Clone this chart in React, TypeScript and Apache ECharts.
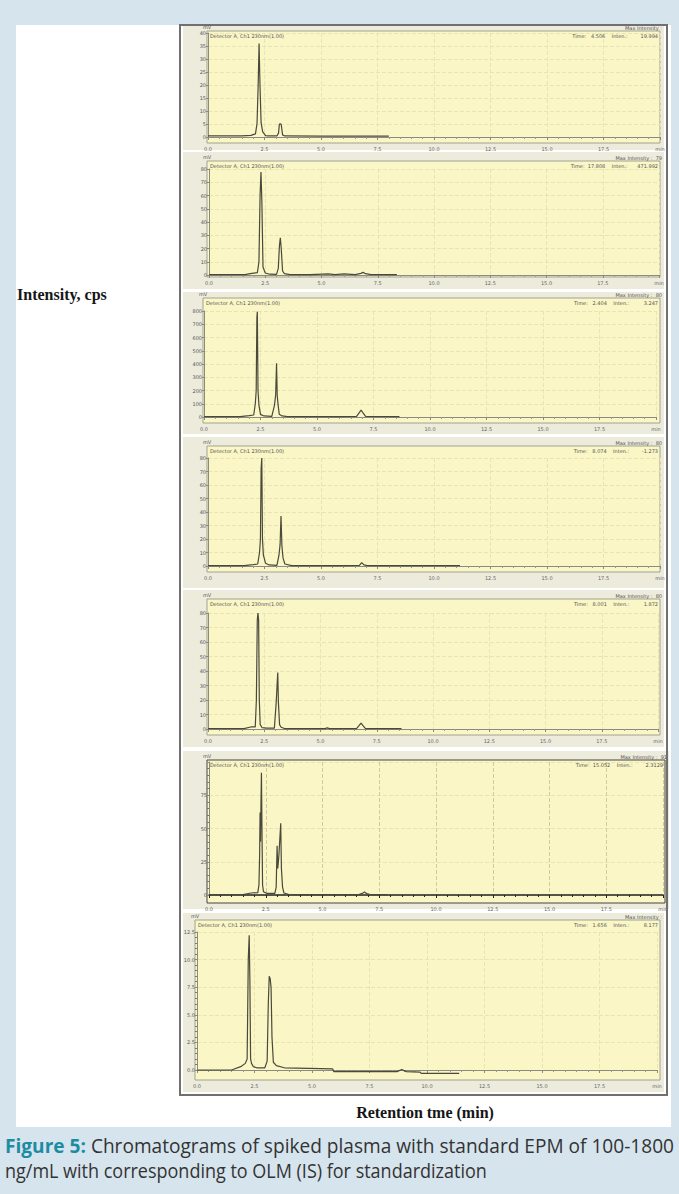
import React, { useEffect, useRef } from "react";
import * as echarts from "echarts";

// ---- data ----
const timeTickLabels = ["0.0", "2.5", "5.0", "7.5", "10.0", "12.5", "15.0", "17.5", "min"];

const p1Time = [0, 1.5, 1.9, 2.1, 2.17, 2.22, 2.26, 2.3, 2.35, 2.42, 2.55, 2.65, 3.05, 3.12, 3.16, 3.2, 3.24, 3.3, 3.4, 5.0, 6.5, 8.0];
const p1Int = [0.4, 0.4, 0.6, 1.2, 5.2, 20, 36, 20, 5.4, 2.0, 0.5, 0.4, 0.4, 1.5, 5.0, 5.1, 4.8, 0.8, 0.4, 0.3, 0.3, 0.3];

const p2Time = [0, 1.6, 1.9, 2.15, 2.22, 2.27, 2.31, 2.35, 2.4, 2.5, 2.7, 3.0, 3.08, 3.13, 3.17, 3.21, 3.27, 3.35, 3.6, 4.5, 5.3, 5.6, 6.0, 6.5, 6.75, 6.85, 6.95, 7.2, 8.35];
const p2Int = [0.3, 0.3, 1.2, 1.8, 10, 60, 77.7, 55, 6, 1.5, 0.6, 0.5, 5, 22, 28, 20, 3, 1.0, 0.3, 0.3, 0.8, 0.3, 0.8, 0.3, 1.2, 2.0, 1.0, 0.3, 0.3];

const p3Time = [0, 1.6, 2.0, 2.2, 2.27, 2.31, 2.34, 2.36, 2.39, 2.43, 2.5, 2.65, 3.0, 3.12, 3.17, 3.21, 3.24, 3.28, 3.33, 3.45, 3.7, 6.0, 6.75, 6.88, 6.95, 7.02, 7.15, 8.65];
const p3Int = [3, 3, 10, 15, 100, 200, 750, 795, 200, 90, 20, 8, 5, 90, 166, 405, 160, 90, 20, 8, 3, 3, 5, 35, 53, 35, 5, 3];

const p4Time = [0, 1.6, 2.0, 2.2, 2.28, 2.32, 2.35, 2.38, 2.41, 2.45, 2.55, 2.7, 3.05, 3.14, 3.19, 3.23, 3.27, 3.32, 3.4, 3.7, 6.0, 6.7, 6.8, 6.9, 7.05, 11.15];
const p4Int = [0.3, 0.3, 1.0, 1.5, 10, 20, 72, 80, 20, 8, 2, 0.8, 0.5, 8, 16, 37, 15, 6, 1.5, 0.3, 0.3, 0.5, 2.5, 0.8, 0.3, 0.3];

const p5Time = [0, 1.6, 1.9, 2.1, 2.15, 2.19, 2.22, 2.25, 2.28, 2.32, 2.4, 2.6, 2.95, 3.03, 3.07, 3.1, 3.13, 3.18, 3.25, 3.4, 3.6, 5.2, 5.3, 5.4, 6.6, 6.72, 6.8, 6.88, 7.0, 8.6];
const p5Int = [0.3, 0.3, 1.4, 1.4, 20, 75, 80, 75, 20, 3, 1, 0.6, 0.6, 18, 30, 39, 18, 3, 1.2, 0.3, 0.3, 0.3, 0.8, 0.3, 0.3, 2.5, 4.1, 2.5, 0.3, 0.3];

const p6Time = [0, 1.5, 1.85, 2.15, 2.2, 2.23, 2.25, 2.27, 2.29, 2.31, 2.33, 2.36, 2.4, 2.55, 2.9, 2.96, 3.0, 3.03, 3.08, 3.13, 3.16, 3.19, 3.24, 3.3, 3.5, 6.6, 6.75, 6.85, 6.95, 7.1, 7.85];
const p6Int = [0.3, 0.3, 1.5, 1.8, 7.5, 30, 62, 40, 70, 92, 55, 7.5, 2.5, 1.2, 1.2, 6, 37, 20, 30, 45, 54, 20, 6, 1.5, 0.5, 0.3, 1.2, 2.3, 1.0, 0.3, 0.3];

const p7Time = [0, 1.5, 1.9, 2.1, 2.18, 2.23, 2.27, 2.3, 2.33, 2.37, 2.45, 2.6, 2.95, 3.05, 3.1, 3.14, 3.18, 3.22, 3.26, 3.32, 3.45, 3.8, 5.9, 5.95, 8.7, 8.9, 9.1, 9.7, 9.75, 11.4];
const p7Int = [0, 0, 0.3, 0.6, 1.0, 10.1, 12.2, 8, 1.0, 0.6, 0.3, 0.2, 0.2, 0.8, 6, 8.5, 8.3, 7.5, 3, 0.7, 0.4, 0.2, 0.1, -0.15, -0.15, 0.05, -0.15, -0.2, -0.3, -0.3];

const p1YLabels = ["0", "5", "10", "15", "20", "25", "30", "35", "40"];
const p2YLabels = ["0", "10", "20", "30", "40", "50", "60", "70", "80"];
const p3YLabels = ["0", "100", "200", "300", "400", "500", "600", "700", "800"];
const p4YLabels = ["0", "10", "20", "30", "40", "50", "60", "70", "80"];
const p5YLabels = ["0", "10", "20", "30", "40", "50", "60", "70", "80"];
const p6YLabels = ["0", "25", "50", "75", ""];
const p7YLabels = ["0.0", "2.5", "5.0", "7.5", "10.0", "12.5"];

const yMaxes = [40, 80, 800, 80, 80, 100, 12.5];
const ySteps = [5, 10, 100, 10, 10, 25, 2.5];

const maxIntensityTexts = ["Max Intensity :", "Max Intensity :  79", "Max Intensity :  80", "Max Intensity :  80", "Max Intensity :  80", "Max Intensity :  91", "Max Intensity :"];
const cursorTexts = [
  "Time:   4.506    Inten.:        19.994",
  "Time:  17.808    Inten.:      471.992",
  "Time:   2.404    Inten.:         3.247",
  "Time:   8.074    Inten.:        -1.273",
  "Time:   8.001    Inten.:         1.872",
  "Time:  15.052    Inten.:        2.3129",
  "Time:   1.656    Inten.:         8.177",
];
const detectorText = "Detector A, Ch1 230nm(1.00)";
const yLabel = "Intensity, cps";
const xLabel = "Retention tme (min)";
const captionBold = "Figure 5:";
const captionLine1 = " Chromatograms of spiked plasma with standard EPM of 100-1800";
const captionLine2 = "ng/mL with corresponding to OLM (IS) for standardization";

const seriesTimes = [p1Time, p2Time, p3Time, p4Time, p5Time, p6Time, p7Time];
const seriesInts = [p1Int, p2Int, p3Int, p4Int, p5Int, p6Int, p7Int];
const yLabelSets = [p1YLabels, p2YLabels, p3YLabels, p4YLabels, p5YLabels, p6YLabels, p7YLabels];

// ---- layout (pixels) ----
const layout = [
  { box: [183, 26, 481, 124], plot: [207, 31, 453, 112], grid: [208, 33, 452, 104], off: 6 },
  { box: [183, 152, 481, 137], plot: [207, 161, 453, 116], grid: [209, 169, 450, 106], off: 2 },
  { box: [183, 292, 481, 142], plot: [203, 298, 457, 125], grid: [204, 311, 452, 106], off: 6 },
  { box: [183, 437, 481, 151], plot: [207, 446, 453, 126], grid: [208, 458, 452, 108], off: 6 },
  { box: [183, 590, 481, 157], plot: [207, 599, 453, 136], grid: [208, 613, 450, 116], off: 6 },
  { box: [183, 751, 486, 158], plot: [207, 760, 458, 143], grid: [209, 762, 454, 133], off: 8 },
  { box: [183, 913, 481, 179], plot: [195, 920, 465, 160], grid: [197, 932, 460, 138], off: 10 },
];

const BLUE = "#d6e4ed";
const BEIGE = "#ecebdc";
const YELLOW = "#faf6c6";
const LINE = "#4a4a3c";
const TINY = "DejaVu Sans";

export default function App() {
  const ref = useRef<HTMLDivElement>(null);
  useEffect(() => {
    document.body.style.margin = "0";
    const chart = echarts.init(ref.current!, undefined, { renderer: "svg" });

    const grids: any[] = [];
    const xAxes: any[] = [];
    const yAxes: any[] = [];
    const series: any[] = [];
    const elements: any[] = [];

    elements.push({ type: "rect", z: -20, shape: { x: 16, y: 25, width: 655, height: 1102 }, style: { fill: "#ffffff" } });

    layout.forEach((L, i) => {
      const heavy = i === 5;
      const [gl, gt, gw, gh] = L.grid;
      grids.push({ left: gl, top: gt, width: gw, height: gh, containLabel: false });
      xAxes.push({
        type: "value",
        gridIndex: i,
        min: 0,
        max: 20,
        interval: 2.5,
        offset: L.off,
        z: 5,
        axisLine: { show: true, lineStyle: { color: heavy ? "#222" : "#8a8a80", width: heavy ? 1.5 : 1 } },
        axisTick: { show: true, inside: false, length: 3, lineStyle: { color: heavy ? "#222" : "#8a8a80" } },
        minorTick: { show: true, splitNumber: 5, length: 2, lineStyle: { color: heavy ? "#222" : "#9a9a90" } },
        axisLabel: {
          show: true,
          fontSize: 5,
          fontFamily: TINY,
          color: "#666",
          margin: 3,
          showMaxLabel: true,
          formatter: (v: number) => timeTickLabels[Math.round(v / 2.5)] ?? "",
        },
        splitLine: { show: true, lineStyle: { color: heavy ? "#cfcca0" : "#e8e4b4", type: "dashed", width: 1 } },
      });
      const labels = yLabelSets[i];
      const step = ySteps[i];
      yAxes.push({
        type: "value",
        gridIndex: i,
        min: 0,
        max: yMaxes[i],
        interval: step,
        z: 5,
        axisLine: { show: true, lineStyle: { color: "#8a8a80" } },
        axisTick: { show: true, inside: false, length: 2, lineStyle: { color: "#8a8a80" } },
        minorTick: { show: i >= 5, splitNumber: 5, length: 2, lineStyle: { color: "#777" } },
        axisLabel: {
          show: true,
          fontSize: 5,
          fontFamily: TINY,
          color: "#555",
          margin: 2,
          formatter: (v: number) => labels[Math.round(v / step)] ?? "",
        },
        splitLine: { show: true, lineStyle: { color: "#e8e4b4", type: "dashed", width: 1 } },
      });
      series.push({
        type: "line",
        xAxisIndex: i,
        yAxisIndex: i,
        showSymbol: false,
        symbol: "none",
        clip: false,
        z: 10,
        lineStyle: { color: LINE, width: 1.2 },
        data: seriesTimes[i].map((t, k) => [t, seriesInts[i][k]]),
      });

      const [bx, by, bw, bh] = L.box;
      const [px, py, pw, ph] = L.plot;
      elements.push({ type: "rect", z: -10, shape: { x: bx, y: by, width: bw, height: bh }, style: { fill: BEIGE } });
      elements.push({
        type: "rect",
        z: -5,
        shape: { x: px, y: py, width: pw, height: ph },
        style: { fill: YELLOW, stroke: heavy ? "#444" : "#a3a290", lineWidth: 1 },
      });
      const tinyStyle = (text: string, align: string, va: string) => ({
        text,
        fill: "#555",
        fontSize: 5,
        fontFamily: TINY,
        align,
        textAlign: align,
        verticalAlign: va,
        textVerticalAlign: va,
      });
      elements.push({ type: "text", z: 20, x: px - 4, y: py - 2, style: tinyStyle("mV", "left", "bottom") });
      elements.push({ type: "text", z: 20, x: px + 3, y: py + 2, style: tinyStyle(detectorText, "left", "top") });
      elements.push({ type: "text", z: 20, x: px + pw - 2, y: py + 2, style: tinyStyle(cursorTexts[i], "right", "top") });
      elements.push({ type: "text", z: 20, x: px + pw + 2, y: py - 1, style: tinyStyle(maxIntensityTexts[i], "right", "bottom") });
    });

    // outer frame
    elements.push({
      type: "rect",
      z: 15,
      shape: { x: 180, y: 25, width: 487, height: 1070 },
      style: { fill: "none", stroke: "#707070", lineWidth: 2 },
    });

    elements.push({
      type: "text",
      z: 20,
      x: 17,
      y: 294,
      style: {
        text: yLabel,
        fill: "#161616",
        fontSize: 16,
        fontWeight: "bold",
        fontFamily: "Liberation Serif",
        align: "left",
        textAlign: "left",
        verticalAlign: "middle",
        textVerticalAlign: "middle",
      },
    });
    elements.push({
      type: "text",
      z: 20,
      x: 425,
      y: 1112,
      style: {
        text: xLabel,
        fill: "#161616",
        fontSize: 16,
        fontWeight: "bold",
        fontFamily: "Liberation Serif",
        align: "center",
        textAlign: "center",
        verticalAlign: "middle",
        textVerticalAlign: "middle",
      },
    });
    elements.push({
      type: "text",
      z: 20,
      x: 5,
      y: 1145,
      scaleX: 0.955,
      style: {
        text: "{b|" + captionBold + "}{r|" + captionLine1 + "}",
        fontSize: 20,
        fontFamily: "Open Sans",
        align: "left",
        textAlign: "left",
        verticalAlign: "middle",
        textVerticalAlign: "middle",
        rich: {
          b: { fontSize: 20, fontFamily: "Open Sans", fontWeight: "bold", fill: "#1d8ca3", color: "#1d8ca3" },
          r: { fontSize: 20, fontFamily: "Open Sans", fill: "#333333", color: "#333333" },
        },
      },
    });
    elements.push({
      type: "text",
      z: 20,
      x: 5,
      y: 1171,
      scaleX: 0.9,
      style: {
        text: captionLine2,
        fill: "#333333",
        fontSize: 20,
        fontFamily: "Open Sans",
        align: "left",
        textAlign: "left",
        verticalAlign: "middle",
        textVerticalAlign: "middle",
      },
    });

    chart.setOption({
      animation: false,
      backgroundColor: BLUE,
      grid: grids,
      xAxis: xAxes,
      yAxis: yAxes,
      series,
      graphic: { elements },
    });
    return () => chart.dispose();
  }, []);
  return <div ref={ref} style={{ width: 679, height: 1194 }} />;
}
